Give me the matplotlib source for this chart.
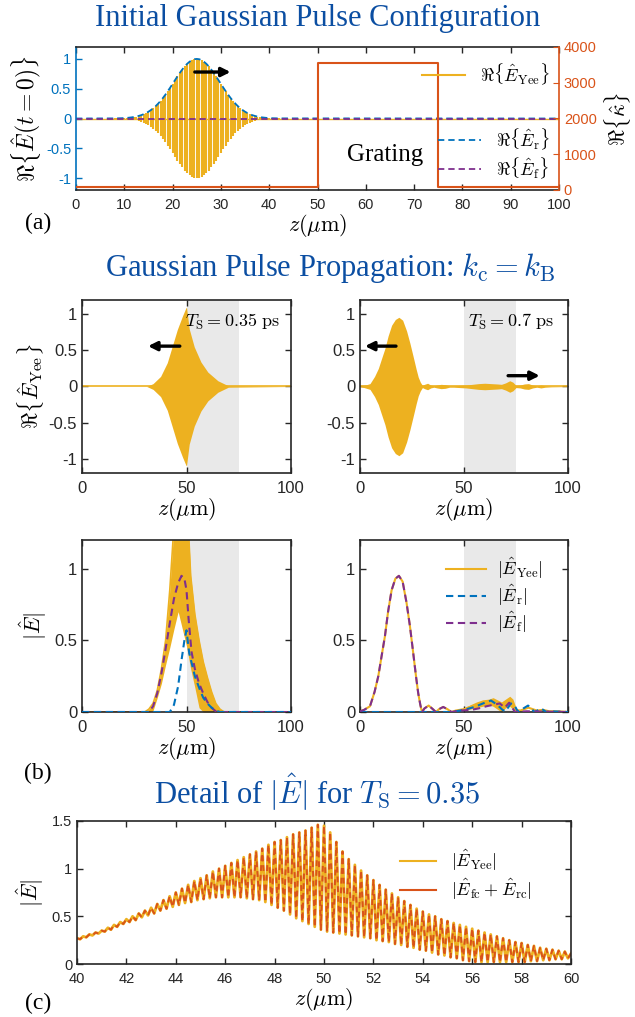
import numpy as np
import matplotlib
matplotlib.use("Agg")
import matplotlib.pyplot as plt
from matplotlib.lines import Line2D
from matplotlib.ticker import FuncFormatter

plt.rcParams['mathtext.fontset'] = 'cm'
plt.rcParams['font.family'] = ['Liberation Sans', 'DejaVu Sans']
plt.rcParams['axes.unicode_minus'] = False

# MATLAB default colours
YEL = '#EDB120'
BLU = '#0072BD'
ORA = '#D95319'
PUR = '#7E2F8E'
TITLE_C = '#0b4ea2'
SHADE = '#e9e9e9'
AXC = '#262626'
SERIF = 'Liberation Serif'

# --- DATA ---
grating_start, grating_end = 50, 75

# (a) initial pulse envelope, sampled every 0.5 um from 8 to 42 um
env_a_z = np.arange(8, 42.01, 0.5)
env_a = [0.002, 0.003, 0.004, 0.005, 0.008, 0.010, 0.014, 0.019, 0.025, 0.033,
         0.044, 0.056, 0.072, 0.091, 0.114, 0.141, 0.172, 0.208, 0.249, 0.294,
         0.345, 0.399, 0.457, 0.518, 0.581, 0.644, 0.706, 0.766, 0.822, 0.873,
         0.917, 0.952, 0.979, 0.995, 1.000,
         0.995, 0.979, 0.952, 0.917, 0.873, 0.822, 0.766, 0.706, 0.644, 0.581,
         0.518, 0.457, 0.399, 0.345, 0.294, 0.249, 0.208, 0.172, 0.141, 0.114,
         0.091, 0.072, 0.056, 0.044, 0.033, 0.025, 0.019, 0.014, 0.010, 0.008,
         0.005, 0.004, 0.003, 0.002]
kappa_z = [0, 50, 75, 100]
kappa_v = [80, 3550, 80, 80]

# (b) top-left: envelope of Re{E_Yee}, T_S = 0.35 ps
z_tl = [0, 31, 34, 37.6, 40.8, 43.2, 45.6, 48.1, 49.7, 50.0, 51.3, 53.7, 56.9, 60.2, 65, 70, 100]
env_tl = [0, 0, 0.04, 0.14, 0.33, 0.56, 0.79, 0.98, 1.09, 1.1, 0.8, 0.55, 0.34, 0.2, 0.08, 0.01, 0]

# (b) top-right: envelope of Re{E_Yee}, T_S = 0.7 ps
z_tr = [0, 2, 4.8, 7, 8.8, 10.5, 12, 13.5, 15.2, 17, 18.7, 20.5, 22.4, 24, 25.6, 27, 28, 29, 30, 31,
        32.5, 34, 35.5, 37, 39, 41, 43, 45, 48, 51, 54, 57, 60, 63, 66, 68, 70, 72, 73.5, 75,
        77, 79, 81, 83, 85, 87, 89, 92, 96, 100]
env_tr = [0.005, 0.015, 0.04, 0.14, 0.25, 0.4, 0.53, 0.7, 0.85, 0.93, 0.96, 0.92, 0.77, 0.6, 0.41,
          0.24, 0.13, 0.06, 0.015, 0.03, 0.045, 0.02, 0.01, 0.02, 0.03, 0.025, 0.01, 0.01, 0.015,
          0.02, 0.03, 0.04, 0.045, 0.04, 0.035, 0.03, 0.05, 0.08, 0.06, 0.015, 0.02, 0.035, 0.04,
          0.02, 0.01, 0.02, 0.01, 0.005, 0.003, 0.002]

# (b) bottom-left: |E|, T_S = 0.35 ps
z_bl = [0, 30, 32, 34, 36, 38, 40, 42, 44, 46, 48, 50, 51, 52, 54, 56, 58, 60, 62, 64, 66, 68, 100]
yee_bl_hi = [0, 0, 0.02, 0.06, 0.15, 0.3, 0.5, 0.85, 1.3, 1.3, 1.3, 1.3, 1.25, 0.95, 0.68, 0.5,
             0.35, 0.24, 0.14, 0.06, 0.02, 0, 0]
yee_bl_lo = [0, 0, 0, 0.01, 0.1, 0.2, 0.33, 0.45, 0.58, 0.7, 0.58, 0.46, 0.38, 0.3, 0.17, 0.03,
             0, 0, 0, 0, 0, 0, 0]
z_f_bl = [0, 32, 34, 36, 38, 40, 42, 44, 46, 47.6, 49, 50, 51, 52.4, 54, 56, 58, 60, 62, 64.4, 66, 100]
f_bl = [0, 0, 0.04, 0.13, 0.27, 0.44, 0.62, 0.79, 0.9, 0.95, 0.93, 0.85, 0.65, 0.42, 0.3, 0.2,
        0.13, 0.07, 0.03, 0.0, 0, 0]
z_r_bl = [0, 42, 44, 46, 47.6, 49, 50, 51.3, 52, 54, 56.4, 58, 60, 62, 64, 66, 100]
r_bl = [0, 0, 0.05, 0.18, 0.36, 0.5, 0.57, 0.41, 0.37, 0.25, 0.155, 0.1, 0.06, 0.03, 0.01, 0, 0]

# (b) bottom-right: |E|, T_S = 0.7 ps
z_br = [0, 2, 4.8, 7, 8.8, 10.5, 12, 13.5, 15.2, 17, 18.7, 20.5, 22.4, 24, 25.6, 27, 28, 29, 29.8, 31,
        33, 35, 36.5, 38, 40, 42, 44, 46, 48, 50, 53, 56, 59, 62, 64, 66, 68, 70, 72, 73.5,
        75, 77, 79, 81, 83, 85, 88, 91, 95, 100]
yee_br = [0.005, 0.015, 0.04, 0.14, 0.25, 0.4, 0.53, 0.7, 0.85, 0.93, 0.95, 0.91, 0.76, 0.6, 0.41,
          0.24, 0.13, 0.05, 0.0, 0.025, 0.045, 0.02, 0.0, 0.02, 0.035, 0.02, 0.0, 0.01, 0.015, 0.02,
          0.035, 0.05, 0.06, 0.07, 0.07, 0.05, 0.035, 0.06, 0.075, 0.055, 0.015, 0.01, 0.02, 0.03,
          0.02, 0.01, 0.015, 0.005, 0.005, 0.0]
z_band_br = [50, 53, 56, 59, 62, 64, 66, 68, 70, 72, 73.5, 75]
band_br_hi = [0.03, 0.05, 0.07, 0.085, 0.09, 0.1, 0.085, 0.07, 0.09, 0.11, 0.09, 0.03]
band_br_lo = [0.01, 0.02, 0.03, 0.04, 0.05, 0.04, 0.02, 0.0, 0.03, 0.04, 0.02, 0.0]
z_r_br = [0, 44, 50, 55, 60, 63, 66, 68.5, 70, 72.5, 74.5, 76, 78, 80.8, 84, 87, 89.6, 92, 100]
r_br = [0, 0, 0.015, 0.035, 0.065, 0.08, 0.05, 0.015, 0.005, 0.06, 0.04, 0.0, 0.02, 0.045, 0.0,
        0.025, 0.0, 0.005, 0.0]
z_f_br = [0, 2, 4.8, 7, 8.8, 10.5, 12, 13.5, 15.2, 17, 18.7, 20.5, 22.4, 24, 25.6, 27, 28, 29, 29.8,
          31, 33, 35, 36.5, 38, 40, 42, 44, 48, 53.6, 57, 60.8, 64, 67.2, 69.6, 71.7, 74.5, 80, 100]
f_br = [0.005, 0.015, 0.04, 0.14, 0.25, 0.4, 0.53, 0.7, 0.85, 0.93, 0.95, 0.91, 0.76, 0.6, 0.41,
        0.24, 0.13, 0.05, 0.0, 0.025, 0.045, 0.02, 0.0, 0.02, 0.035, 0.02, 0.0, 0.01, 0.015, 0.025,
        0.04, 0.05, 0.06, 0.03, 0.065, 0.0, 0.005, 0.0]

# (c) detail: oscillation maxima (every 0.25 um from 40) and minima (in between)
c_max = [0.27, 0.29, 0.31, 0.33, 0.35, 0.38, 0.41, 0.44, 0.47, 0.50, 0.53, 0.56, 0.59, 0.63,
         0.67, 0.71, 0.75, 0.79, 0.83, 0.87, 0.90, 0.93, 0.97, 1.00, 1.03, 1.06, 1.09, 1.12,
         1.15, 1.18, 1.21, 1.25, 1.28, 1.30, 1.33, 1.36, 1.38, 1.40, 1.43, 1.46, 1.45, 1.38,
         1.28, 1.18, 1.10, 1.04, 0.98, 0.93, 0.88, 0.83, 0.78, 0.74, 0.70, 0.66, 0.62, 0.58,
         0.55, 0.52, 0.50, 0.47, 0.45, 0.43, 0.41, 0.39, 0.37, 0.35, 0.33, 0.31, 0.29, 0.27,
         0.25, 0.23, 0.22, 0.20, 0.19, 0.17, 0.16, 0.15, 0.14, 0.13, 0.11]
c_min = [0.26, 0.28, 0.30, 0.32, 0.34, 0.36, 0.39, 0.42, 0.44, 0.46, 0.49, 0.51, 0.53, 0.56,
         0.58, 0.60, 0.62, 0.64, 0.65, 0.67, 0.68, 0.69, 0.70, 0.70, 0.70, 0.70, 0.70, 0.69,
         0.68, 0.67, 0.65, 0.62, 0.59, 0.56, 0.52, 0.48, 0.45, 0.42, 0.39, 0.36, 0.34, 0.33,
         0.32, 0.31, 0.30, 0.29, 0.28, 0.27, 0.25, 0.24, 0.23, 0.21, 0.20, 0.18, 0.17, 0.15,
         0.14, 0.12, 0.10, 0.09, 0.07, 0.06, 0.04, 0.03, 0.02, 0.02, 0.02, 0.02, 0.02, 0.02,
         0.02, 0.02, 0.02, 0.03, 0.03, 0.04, 0.04, 0.05, 0.05, 0.06]

W, H = 635, 1017


def fig_ax(left, top, right, bottom):
    # pixel box -> figure fraction
    return [left / W, 1 - bottom / H, (right - left) / W, (bottom - top) / H]


fmt = FuncFormatter(lambda v, p: '%g' % v)


def style(ax, size):
    ax.tick_params(direction='in', top=True, right=True, labelsize=size, colors=AXC,
                   length=4, width=1)
    for s in ax.spines.values():
        s.set_color(AXC)
        s.set_linewidth(1.2)
    ax.xaxis.set_major_formatter(fmt)
    ax.yaxis.set_major_formatter(fmt)


def arrow(ax, x0, x1, y):
    ax.annotate('', xy=(x1, y), xytext=(x0, y),
                arrowprops=dict(arrowstyle='-|>', color='k', lw=2.4, mutation_scale=13,
                                shrinkA=0, shrinkB=0))


fig = plt.figure(figsize=(W / 100, H / 100), dpi=100)

# ---------------- (a) ----------------
axa = fig.add_axes(fig_ax(76, 47, 559, 190))
za = np.concatenate([[0], env_a_z, [100]])
env_full = np.concatenate([[0], env_a, [0]])
# fast carrier: one stroke from -envelope to +envelope per sample
axa.vlines(env_a_z, -np.array(env_a), env_a, color=YEL, lw=1.5)
axa.plot(za, np.zeros_like(za), color=YEL, lw=1.0)
axa.plot(za, env_full, color=BLU, lw=1.3, ls='--', dashes=(3.5, 2.2))
axa.plot(za, np.zeros_like(za), color=PUR, lw=1.3, ls='--', dashes=(3.5, 2.2))
axa.set_xlim(0, 100)
axa.set_ylim(-1.2, 1.2)
axa.set_xticks(range(0, 101, 10))
axa.set_yticks([-1, -0.5, 0, 0.5, 1])
style(axa, 10.5)
axa.tick_params(axis='y', colors=BLU, right=False)
axa.tick_params(axis='x', pad=6)
axa.spines['left'].set_color(BLU)
axa.spines['right'].set_visible(False)
axa.set_ylabel(r'$\Re\{\hat{E}(t=0)\}$', fontsize=17, labelpad=2)
axa.set_xlabel(r'$z(\mu\mathrm{m})$', fontsize=16, labelpad=0)
arrow(axa, 24.6, 32, 0.78)
axa.text(64, -0.61, 'Grating', family=SERIF, fontsize=18, ha='center', va='center')

axk = axa.twinx()
axk.step(kappa_z, kappa_v, where='post', color=ORA, lw=1.5)
axk.set_ylim(0, 4000)
axk.set_yticks([0, 1000, 2000, 3000, 4000])
axk.tick_params(axis='y', direction='in', colors=ORA, labelsize=10.5, length=4)
for s in ['left', 'top', 'bottom']:
    axk.spines[s].set_visible(False)
axk.spines['right'].set_color(ORA)
axk.spines['right'].set_linewidth(1.2)
axk.set_ylabel(r'$\Re\{\hat{\kappa}\}$', fontsize=16, labelpad=4)

h_yee = Line2D([], [], color=YEL, lw=1.5)
h_r = Line2D([], [], color=BLU, lw=1.3, ls='--', dashes=(3.5, 2.2))
h_f = Line2D([], [], color=PUR, lw=1.3, ls='--', dashes=(3.5, 2.2))
leg1 = axk.legend([h_yee], [r'$\Re\{\hat{E}_{\mathrm{Yee}}\}$'], loc='upper right',
                  bbox_to_anchor=(1.0, 0.96), frameon=False, fontsize=13, handlelength=2.4,
                  borderaxespad=0.1)
axk.add_artist(leg1)
axk.legend([h_r, h_f], [r'$\Re\{\hat{E}_{\mathrm{r}}\}$', r'$\Re\{\hat{E}_{\mathrm{f}}\}$'],
           loc='lower right', bbox_to_anchor=(1.0, 0.0), frameon=False, fontsize=13,
           handlelength=2.4, borderaxespad=0.1, labelspacing=0.2)

fig.text(0.5, 1 - 18 / H, 'Initial Gaussian Pulse Configuration', family=SERIF, fontsize=22,
         color=TITLE_C, ha='center', va='center')
fig.text(38 / W, 1 - 223 / H, '(a)', family=SERIF, fontsize=17, ha='center', va='center')

# ---------------- (b) ----------------
fig.text(0.52, 1 - 268 / H, r'Gaussian Pulse Propagation: $k_{\mathrm{c}}=k_{\mathrm{B}}$',
         family=SERIF, fontsize=22, color=TITLE_C, ha='center', va='center')

ax_tl = fig.add_axes(fig_ax(82, 300, 291, 473))
ax_tr = fig.add_axes(fig_ax(360, 300, 568, 473))
ax_bl = fig.add_axes(fig_ax(82, 540, 291, 712))
ax_br = fig.add_axes(fig_ax(360, 540, 568, 712))

for ax, zz, ee in [(ax_tl, z_tl, env_tl), (ax_tr, z_tr, env_tr)]:
    ax.axvspan(grating_start, grating_end, color=SHADE, lw=0, zorder=0)
    ax.fill_between(zz, -np.array(ee), ee, color=YEL, lw=0, zorder=2)
    ax.axhline(0, color=YEL, lw=1.2, zorder=2)
    ax.set_ylim(-1.2, 1.2)
    ax.set_yticks([-1, -0.5, 0, 0.5, 1])

ax_tl.set_ylabel(r'$\Re\{\hat{E}_{\mathrm{Yee}}\}$', fontsize=16, labelpad=2)
ax_tl.text(49.5, 0.9, r'$T_{\mathrm{S}}=0.35\ \mathrm{ps}$', fontsize=13, va='center', zorder=5)
ax_tr.text(52, 0.9, r'$T_{\mathrm{S}}=0.7\ \mathrm{ps}$', fontsize=13, va='center', zorder=5)
arrow(ax_tl, 46.8, 31.6, 0.56)
arrow(ax_tr, 17.3, 2.4, 0.56)
arrow(ax_tr, 71.2, 86.4, 0.15)

dash = dict(ls='--', dashes=(3.5, 2.2), lw=1.5)
ax_bl.axvspan(grating_start, grating_end, color=SHADE, lw=0, zorder=0)
ax_bl.fill_between(z_bl, yee_bl_lo, yee_bl_hi, color=YEL, lw=0, zorder=2)
ax_bl.plot(z_bl, yee_bl_hi, color=YEL, lw=1.2, zorder=2)
ax_bl.plot(z_f_bl, f_bl, color=PUR, zorder=3, **dash)
ax_bl.plot(z_r_bl, r_bl, color=BLU, zorder=3, **dash)
ax_bl.set_ylabel(r'$|\hat{E}|$', fontsize=16, labelpad=4)

ax_br.axvspan(grating_start, grating_end, color=SHADE, lw=0, zorder=0)
ax_br.plot(z_br, yee_br, color=YEL, lw=1.5, zorder=2)
ax_br.fill_between(z_band_br, band_br_lo, band_br_hi, color=YEL, lw=0, zorder=2)
ax_br.plot(z_r_br, r_br, color=BLU, zorder=3, **dash)
ax_br.plot(z_f_br, f_br, color=PUR, zorder=3, **dash)
h_ry = Line2D([], [], color=YEL, lw=1.5)
h_rb = Line2D([], [], color=BLU, **dash)
h_rp = Line2D([], [], color=PUR, **dash)
ax_br.legend([h_ry, h_rb, h_rp],
             [r'$|\hat{E}_{\mathrm{Yee}}|$', r'$|\hat{E}_{\mathrm{r}}|$', r'$|\hat{E}_{\mathrm{f}}|$'],
             loc='upper left', bbox_to_anchor=(0.38, 0.95), frameon=False, fontsize=13,
             handlelength=2.2, handletextpad=0.6, labelspacing=0.12, borderaxespad=0)

for ax in [ax_bl, ax_br]:
    ax.set_ylim(0, 1.2)
    ax.set_yticks([0, 0.5, 1])

for ax in [ax_tl, ax_tr, ax_bl, ax_br]:
    ax.set_xlim(0, 100)
    ax.set_xticks([0, 50, 100])
    style(ax, 12)
    ax.tick_params(axis='x', pad=6)
    ax.set_xlabel(r'$z(\mu\mathrm{m})$', fontsize=16, labelpad=0)

fig.text(38 / W, 1 - 773 / H, '(b)', family=SERIF, fontsize=17, ha='center', va='center')

# ---------------- (c) ----------------
fig.text(0.5, 1 - 792 / H, r'Detail of $|\hat{E}|$ for $T_{\mathrm{S}}=0.35$', family=SERIF,
         fontsize=22, color=TITLE_C, ha='center', va='center')
axc = fig.add_axes(fig_ax(77, 821, 571, 964))
zc = np.linspace(40, 60, len(c_max) + len(c_min))
vc = np.empty(len(zc))
vc[0::2] = c_max
vc[1::2] = c_min
axc.plot(zc, vc, color=YEL, lw=2.0)
axc.plot(zc, vc, color=ORA, lw=1.4, ls='--', dashes=(3, 2))
axc.set_xlim(40, 60)
axc.set_ylim(0, 1.5)
axc.set_xticks(range(40, 61, 2))
axc.set_yticks([0, 0.5, 1, 1.5])
style(axc, 10.5)
axc.tick_params(axis='x', pad=6)
axc.set_ylabel(r'$|\hat{E}|$', fontsize=16, labelpad=4)
axc.set_xlabel(r'$z(\mu\mathrm{m})$', fontsize=16, labelpad=0)
axc.legend([Line2D([], [], color=YEL, lw=1.5), Line2D([], [], color=ORA, lw=1.5)],
           [r'$|\hat{E}_{\mathrm{Yee}}|$', r'$|\hat{E}_{\mathrm{fc}}+\hat{E}_{\mathrm{rc}}|$'],
           loc='upper left', bbox_to_anchor=(0.64, 0.86), frameon=False, fontsize=13,
           handlelength=2.0, handletextpad=0.8, borderaxespad=0, labelspacing=0.2)
fig.text(38 / W, 1 - 1003 / H, '(c)', family=SERIF, fontsize=17, ha='center', va='center')

fig.savefig('out.png', dpi=100)
